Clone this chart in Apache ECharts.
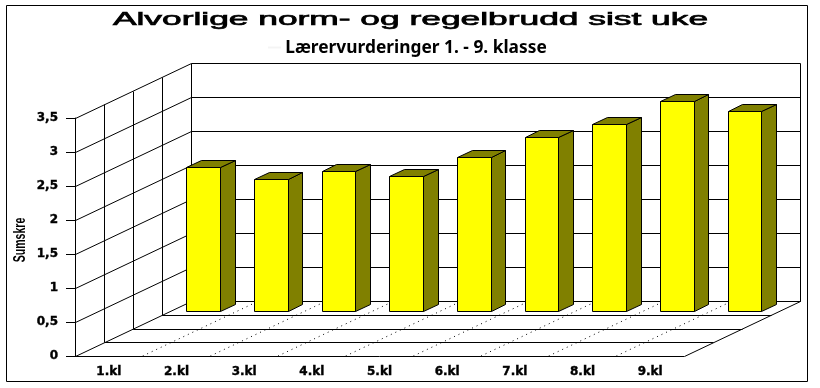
<!DOCTYPE html>
<html>
<head>
<meta charset="utf-8">
<style>
  html, body { margin: 0; padding: 0; background: #fff; }
  #chart { width: 820px; height: 388px; }
</style>
</head>
<body>
<div id="chart"></div>
<script src="https://cdn.jsdelivr.net/npm/echarts@6/dist/echarts.min.js"></script>
<script>
const titleText = 'Alvorlige norm- og regelbrudd sist uke'
const subtitleText = 'Lærervurderinger 1. - 9. klasse'
const yName = 'Sumskre'
const categories = ['1.kl', '2.kl', '3.kl', '4.kl', '5.kl', '6.kl', '7.kl', '8.kl', '9.kl']
const values = [2.12, 1.94, 2.06, 1.99, 2.27, 2.57, 2.76, 3.09, 2.94]
const yTicks = [0, 0.5, 1, 1.5, 2, 2.5, 3, 3.5]
const yTickLabels = ['0', '0,5', '1', '1,5', '2', '2,5', '3', '3,5']

// fake 3D: how far the back wall sits from the front plane, in pixels
const depthX = 116
const depthY = 55
const wallSteps = [0.25, 0.5, 0.75, 1]
// bars stand near the back of the floor
const barFront = 0.813
const barBack = 0.94
const barShare = 0.5

const chartInstance = echarts.init(document.getElementById('chart'))

// x is in category units and may be fractional, coord() on a category axis would round it
function at(api, x, y, d) {
  const p = api.coord([0, y])
  const band = api.size([1, 0])[0]
  return [p[0] + x * band + depthX * d, p[1] - depthY * d]
}

function crisp(p) {
  return [Math.round(p[0]) + 0.5, Math.round(p[1]) + 0.5]
}

function line(a, b, dash) {
  const p = dash ? a : crisp(a)
  const q = dash ? b : crisp(b)
  return {
    type: 'line',
    shape: { x1: p[0], y1: p[1], x2: q[0], y2: q[1] },
    style: { stroke: '#000', lineWidth: 1, lineDash: dash || null }
  }
}

// walls and floor of the box
function renderWalls(params, api) {
  const left = -0.5
  const right = categories.length - 0.5
  const top = yTicks[yTicks.length - 1]
  const children = []
  yTicks.forEach((t) => {
    children.push(line(at(api, left, t, 0), at(api, left, t, 1)))
    children.push(line(at(api, left, t, 1), at(api, right, t, 1)))
  })
  children.push(line(at(api, left, 0, 0), at(api, left, top, 0)))
  children.push(line(at(api, right, 0, 1), at(api, right, top, 1)))
  children.push(line(at(api, right, 0, 0), at(api, right, 0, 1)))
  wallSteps.forEach((d) => {
    children.push(line(at(api, left, 0, d), at(api, left, top, d)))
    children.push(line(at(api, left, 0, d), at(api, right, 0, d)))
  })
  for (let i = 1; i < categories.length; i++) {
    children.push(line(at(api, i - 0.5, 0, 0), at(api, i - 0.5, 0, 1), [1, 4]))
  }
  return { type: 'group', children: children }
}

function renderBar(params, api) {
  const i = api.value(0)
  const v = api.value(1)
  const half = barShare / 2
  const box = (pts, fill) => ({
    type: 'polygon',
    shape: { points: pts.map(crisp) },
    style: { fill: fill, stroke: '#000', lineWidth: 1 }
  })
  const l = i - half
  const r = i + half
  return {
    type: 'group',
    children: [
      box([at(api, r, 0, barFront), at(api, r, 0, barBack), at(api, r, v, barBack), at(api, r, v, barFront)], '#808000'),
      box([at(api, l, v, barFront), at(api, r, v, barFront), at(api, r, v, barBack), at(api, l, v, barBack)], '#808000'),
      box([at(api, l, 0, barFront), at(api, r, 0, barFront), at(api, r, v, barFront), at(api, l, v, barFront)], '#ffff00')
    ]
  }
}

const axisFont = {
  color: '#000',
  fontFamily: 'DejaVu Sans',
  fontWeight: 'bold',
  fontSize: 12,
  textBorderColor: '#000',
  textBorderWidth: 0.4
}

const option = {
  animation: false,
  backgroundColor: '#fff',
  grid: { left: 75, right: 136, top: 118, bottom: 32 },
  xAxis: {
    type: 'category',
    data: categories,
    axisLine: { lineStyle: { color: '#000', width: 1 } },
    axisTick: { alignWithLabel: true, length: 7, lineStyle: { color: '#000' } },
    axisLabel: Object.assign({ interval: 0, margin: 10 }, axisFont)
  },
  yAxis: {
    type: 'value',
    min: 0,
    max: 3.5,
    interval: 0.5,
    splitLine: { show: false },
    axisLine: { show: true, lineStyle: { color: '#000', width: 1 } },
    axisTick: { show: true, length: 9, lineStyle: { color: '#000' } },
    axisLabel: Object.assign({
      margin: 17,
      formatter: (v) => yTickLabels[yTicks.indexOf(v)]
    }, axisFont)
  },
  graphic: [
    {
      type: 'rect',
      silent: true,
      shape: { x: 6.5, y: 5.5, width: 801, height: 376 },
      style: { fill: 'none', stroke: '#000', lineWidth: 1 }
    },
    {
      type: 'text',
      silent: true,
      x: 410.5,
      y: 20,
      scaleX: 1.86,
      style: {
        text: titleText,
        fill: '#000',
        stroke: '#000',
        lineWidth: 0.7,
        font: '19px "Liberation Sans"',
        textAlign: 'center',
        textVerticalAlign: 'middle'
      }
    },
    {
      type: 'line',
      silent: true,
      shape: { x1: 268, y1: 47.5, x2: 281, y2: 47.5 },
      style: { stroke: '#f4f4f4', lineWidth: 2 }
    },
    {
      type: 'text',
      silent: true,
      x: 416,
      y: 48.5,
      scaleX: 1.02,
      style: {
        text: subtitleText,
        fill: '#000',
        font: 'bold 17px "Noto Sans"',
        textAlign: 'center',
        textVerticalAlign: 'middle'
      }
    },
    {
      type: 'text',
      silent: true,
      x: 21,
      y: 240,
      rotation: Math.PI / 2,
      scaleX: 0.66,
      style: {
        text: yName,
        fill: '#000',
        font: 'bold 16px "Liberation Sans"',
        textAlign: 'center',
        textVerticalAlign: 'middle'
      }
    }
  ],
  series: [
    {
      type: 'custom',
      silent: true,
      clip: false,
      z: 1,
      data: [[0, 0]],
      encode: { x: 0, y: 1 },
      renderItem: renderWalls
    },
    {
      type: 'custom',
      silent: true,
      clip: false,
      z: 2,
      data: values.map((v, i) => [i, v]),
      encode: { x: 0, y: 1 },
      renderItem: renderBar
    }
  ]
}
chartInstance.setOption(option)
</script>
</body>
</html>
